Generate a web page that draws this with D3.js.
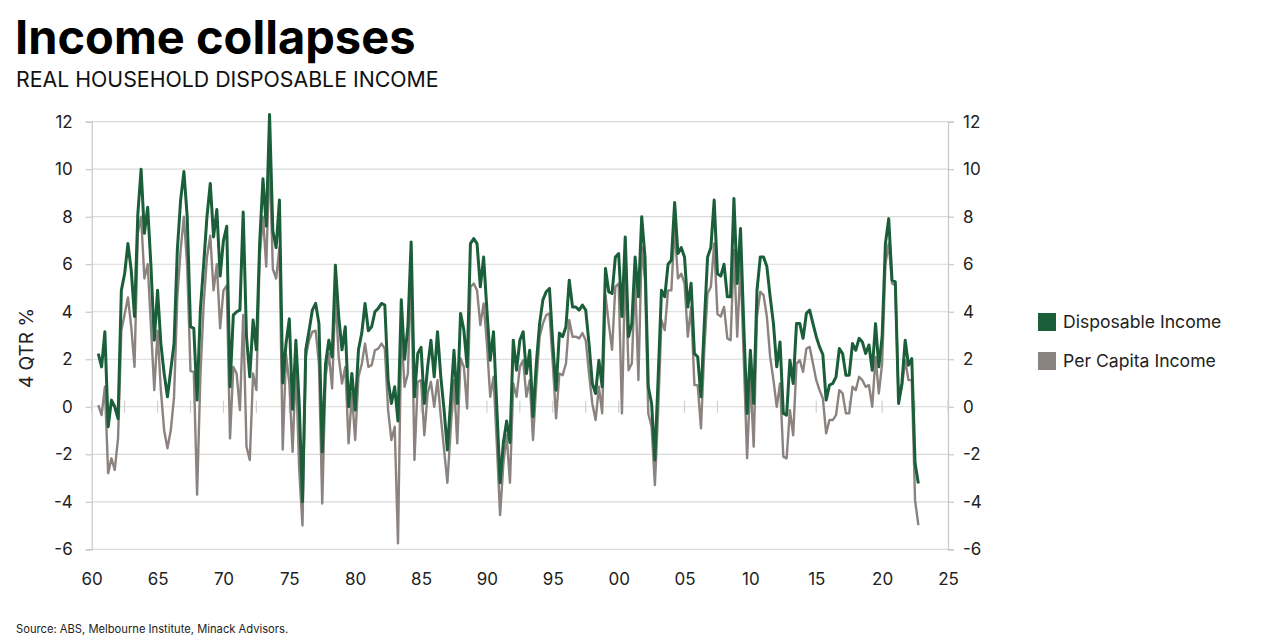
<!DOCTYPE html>
<html>
<head>
<meta charset="utf-8">
<script src="https://cdn.jsdelivr.net/npm/d3@7"></script>
<style>
  html, body { margin: 0; padding: 0; background: #fff; }
  svg { display: block; }
  text { font-family: Inter, "Noto Sans", sans-serif; fill: #1a1a1a; }
</style>
</head>
<body>
<svg id="chart" width="1280" height="640"></svg>
<script>
// ---- DATA (quarterly, 4-quarter % change, starting 1960 Q3) ----
const startYear = 1960.5;
const disposableIncome = [
  2.24, 1.68, 3.16, -0.84, 0.28, 0.0, -0.5, 4.9, 5.6, 6.87,
  5.75, 3.8, 8.1, 10.0, 7.3, 8.4, 5.9, 2.8, 4.9, 2.66,
  1.4, 0.42, 1.54, 2.66, 6.6, 8.7, 9.9, 8.0, 3.37, 3.3,
  0.28, 4.1, 6.0, 8.0, 9.4, 7.15, 8.3, 5.5, 7.0, 7.6,
  0.84, 3.86, 4.0, 4.07, 8.2, 2.95, 1.26, 3.65, 2.4, 6.9,
  9.6, 7.6, 12.3, 7.4, 6.7, 8.7, 1.0, 2.66, 3.7, -0.1,
  2.8, 0.14, -4.0, 2.4, 3.2, 4.07, 4.35, 3.5, -1.9, 1.8,
  2.8, 2.1, 5.96, 3.8, 2.4, 3.37, 0.0, 1.4, -0.14, 2.4,
  3.1, 4.35, 3.2, 3.37, 4.0, 4.14, 4.35, 4.28, 1.12, 0.14,
  0.84, -0.6, 4.5, 2.0, 3.37, 6.94, 0.42, 2.24, 2.5, 0.14,
  1.68, 2.8, 1.26, 3.16, 1.26, -0.14, -1.82, 0.28, 2.38, 0.14,
  3.93, 3.23, 1.68, 6.87, 7.08, 6.87, 5.05, 6.3, 4.07, 1.96,
  3.16, 0.0, -3.2, -1.5, -0.6, -1.5, 2.8, 1.54, 2.8, 3.16,
  1.4, 2.38, -0.42, 1.82, 3.5, 4.5, 4.84, 4.98, 2.66, 0.7,
  3.1, 2.95, 3.37, 5.33, 4.2, 4.2, 4.07, 4.28, 4.07, 2.66,
  0.98, 0.56, 1.96, 0.84, 5.82, 4.84, 4.77, 6.3, 6.45, 3.8,
  7.15, 2.95, 3.5, 6.3, 4.63, 8.0, 6.3, 0.84, 0.14, -2.24,
  1.26, 4.9, 4.63, 6.0, 6.17, 8.6, 6.45, 6.7, 6.3, 4.2,
  5.2, 2.24, 2.1, 0.42, 3.5, 6.3, 6.7, 8.7, 5.6, 5.5,
  6.0, 4.63, 4.63, 8.77, 5.19, 7.5, 3.37, -0.28, 2.38, 0.14,
  4.9, 6.3, 6.3, 5.9, 4.63, 3.5, 1.68, 2.73, -0.28, -0.35,
  1.96, 0.98, 3.5, 3.5, 2.88, 3.93, 4.07, 3.5, 2.95, 2.52,
  2.2, 0.28, 0.91, 0.98, 1.26, 2.45, 2.24, 1.33, 1.33, 2.66,
  2.38, 2.88, 2.73, 2.24, 2.6, 1.54, 3.5, 1.68, 2.95, 6.87,
  7.92, 5.33, 5.26, 0.14, 0.98, 2.8, 1.75, 2.03, -2.38, -3.23
];
const perCapitaIncome = [
  0.07, -0.35, 0.84, -2.8, -2.17, -2.66, -1.33, 3.2, 3.9, 4.6,
  3.37, 1.68, 7.3, 8.0, 5.4, 6.0, 3.37, 0.7, 3.2, 0.7,
  -1.0, -1.75, -1.0, 0.4, 4.6, 6.6, 8.0, 5.9, 1.5, 1.47,
  -3.7, 1.26, 4.35, 6.3, 7.2, 4.9, 6.0, 3.3, 4.9, 5.1,
  -1.33, 1.68, 1.4, -0.14, 3.86, -1.68, -2.24, 1.4, 0.7, 6.3,
  8.0, 5.9, 10.6, 5.8, 5.4, 6.7, -1.8, 2.2, 1.0, -1.9,
  1.8, -2.66, -5.0, 2.1, 2.8, 3.16, 3.2, 1.8, -4.07, 1.26,
  2.24, 0.77, 4.77, 2.1, 0.98, 1.68, -1.54, 0.56, -1.4, 1.26,
  1.8, 2.66, 1.68, 1.75, 2.38, 2.45, 2.66, 2.45, -0.14, -1.4,
  -0.84, -5.75, 3.2, 0.84, 1.4, 5.75, -2.24, 1.05, 1.12, -1.2,
  0.56, 1.05, 0.0, 1.12, -0.42, -1.82, -3.2, -0.98, 1.12, -1.54,
  2.03, 1.68, -0.07, 5.05, 5.19, 4.9, 3.44, 4.35, 2.66, 0.42,
  1.26, -1.54, -4.56, -2.38, -1.2, -3.2, 0.98, 0.42, 1.68, 1.96,
  0.42, 1.12, -1.4, 0.98, 2.95, 3.5, 3.86, 3.93, 1.82, -0.49,
  1.4, 1.33, 1.82, 3.65, 2.95, 2.95, 2.88, 3.1, 2.8, 1.4,
  0.14, -0.56, 0.84, -0.28, 4.7, 3.5, 2.4, 5.05, 5.19, -0.28,
  6.0, 1.54, 1.82, 5.47, 1.12, 6.73, 5.33, -0.28, -0.84, -3.3,
  -0.14, 3.65, 3.23, 4.9, 4.9, 7.57, 5.4, 5.6, 5.19, 2.95,
  4.2, 0.91, 0.91, -0.91, 2.38, 4.77, 5.05, 6.87, 3.9, 3.8,
  4.2, 2.88, 2.8, 6.6, 2.95, 6.0, 1.96, -2.17, 1.26, -1.68,
  3.8, 4.84, 4.7, 3.8, 2.1, 1.12, 0.0, 0.98, -2.1, -2.17,
  -0.14, -1.2, 1.82, 1.96, 1.47, 2.45, 2.52, 1.82, 1.12, 0.7,
  0.35, -1.12, -0.56, -0.56, -0.35, 0.7, 0.56, -0.28, -0.28, 0.84,
  0.7, 1.26, 1.12, 0.84, 0.91, 0.0, 2.1, 0.56, 1.82, 6.0,
  6.87, 5.19, 5.12, 0.28, 0.84, 1.96, 1.12, 1.12, -3.93, -4.98
];
const yTicks = [-6, -4, -2, 0, 2, 4, 6, 8, 10, 12];
const xTickYears = [1960, 1965, 1970, 1975, 1980, 1985, 1990, 1995, 2000, 2005, 2010, 2015, 2020, 2025];
const xTickLabels = ["60", "65", "70", "75", "80", "85", "90", "95", "00", "05", "10", "15", "20", "25"];
const seriesNames = ["Disposable Income", "Per Capita Income"];
const seriesColors = ["#1b5e3a", "#8b837f"];

// ---- LAYOUT ----
const svg = d3.select("#chart");
const plotLeft = 91.7, plotRight = 948, plotTop = 121.7, plotBottom = 549.3;
const x = d3.scaleLinear().domain([1960, 2025]).range([plotLeft, plotRight]);
const y = d3.scaleLinear().domain([-6, 12]).range([plotBottom, plotTop]);
const fmt = d => String(d); // plain hyphen-minus like the reference

// titles
svg.append("text").attr("x", 15).attr("y", 54)
  .style("font-size", "47px").style("font-weight", 700).style("fill", "#000")
  .text("Income collapses");
svg.append("text").attr("x", 16).attr("y", 87)
  .style("font-size", "21.3px").style("font-weight", 400).style("fill", "#111")
  .text("REAL HOUSEHOLD DISPOSABLE INCOME");

// gridlines
const grid = svg.append("g");
grid.selectAll("line").data(yTicks).join("line")
  .attr("x1", plotLeft).attr("x2", plotRight)
  .attr("y1", d => y(d)).attr("y2", d => y(d))
  .attr("stroke", "#d9d9d9").attr("stroke-width", 1.2);

// left axis
const yAxisL = d3.axisLeft(y).tickValues(yTicks).tickSize(6).tickPadding(13).tickFormat(fmt);
const gL = svg.append("g").attr("transform", `translate(${plotLeft},0)`).call(yAxisL);
// right axis
const yAxisR = d3.axisRight(y).tickValues(yTicks).tickSize(6).tickPadding(9).tickFormat(fmt);
const gR = svg.append("g").attr("transform", `translate(${plotRight},0)`).call(yAxisR);
[gL, gR].forEach(g => {
  g.select(".domain").attr("stroke", "#c8c8c8").attr("stroke-width", 1.2);
  g.selectAll(".tick line").attr("stroke", "#c8c8c8").attr("stroke-width", 1.2);
  g.selectAll(".tick text").style("font-size", "17px").style("fill", "#222")
    .style("font-family", "Inter, sans-serif");
});

// x labels
const xAxis = d3.axisBottom(x).tickValues(xTickYears).tickSize(0).tickPadding(24)
  .tickFormat((d, i) => xTickLabels[i]);
const gX = svg.append("g").attr("transform", `translate(0,${plotBottom})`).call(xAxis);
gX.select(".domain").remove();
gX.selectAll(".tick text").style("font-size", "17px").style("fill", "#222")
  .style("font-family", "Inter, sans-serif");

// minor ticks on the zero line every 2.5 years
const minorYears = d3.range(1960, 2025.01, 2.5);
svg.append("g").selectAll("line").data(minorYears).join("line")
  .attr("x1", d => x(d)).attr("x2", d => x(d))
  .attr("y1", y(0) - 6).attr("y2", y(0) + 6)
  .attr("stroke", "#d0d0d0").attr("stroke-width", 1.2);

// y axis title
svg.append("text")
  .attr("transform", `translate(33,348) rotate(-90)`)
  .attr("text-anchor", "middle")
  .style("font-size", "19px").style("fill", "#222")
  .text("4 QTR %");

// lines
const line = d3.line()
  .x((d, i) => x(startYear + i * 0.25))
  .y(d => y(d));
svg.append("path").datum(perCapitaIncome)
  .attr("fill", "none").attr("stroke", seriesColors[1]).attr("stroke-width", 2.4)
  .attr("stroke-linejoin", "round").attr("d", line);
svg.append("path").datum(disposableIncome)
  .attr("fill", "none").attr("stroke", seriesColors[0]).attr("stroke-width", 3)
  .attr("stroke-linejoin", "round").attr("d", line);

// legend
const legend = svg.append("g").attr("transform", "translate(1038,313)");
seriesNames.forEach((name, i) => {
  const g = legend.append("g").attr("transform", `translate(0,${i * 39})`);
  g.append("rect").attr("width", 18).attr("height", 18).attr("fill", seriesColors[i]);
  g.append("text").attr("x", 25).attr("y", 15).style("font-size", "17.6px").style("fill", "#222").text(name);
});

// source
svg.append("text").attr("x", 16).attr("y", 633)
  .style("font-size", "11.2px").style("fill", "#222")
  .text("Source: ABS, Melbourne Institute, Minack Advisors.");
</script>
</body>
</html>
